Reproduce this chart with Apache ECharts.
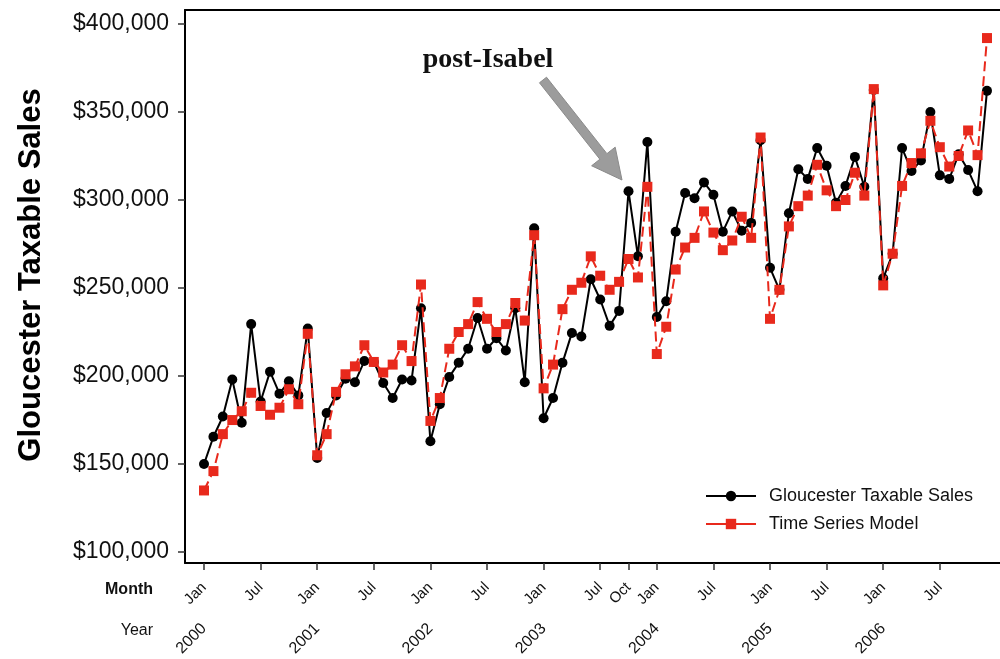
<!DOCTYPE html>
<html><head><meta charset="utf-8">
<script src="https://cdn.jsdelivr.net/npm/echarts@6/dist/echarts.min.js"></script>
<style>html,body{margin:0;padding:0;background:#fff}#c{width:1000px;height:659px}</style>
</head><body><div id="c"></div>
<script>
const years = [2000, 2001, 2002, 2003, 2004, 2005, 2006];
const monthNames = ['Jan','Feb','Mar','Apr','May','Jun','Jul','Aug','Sep','Oct','Nov','Dec'];
const seriesNames = ['Gloucester Taxable Sales', 'Time Series Model'];
// Monthly values, Jan 2000 .. Dec 2006
const salesValues = [
  150000,165500,177000,198000,173500,229500,185500,202500,190000,197000,189000,227000,
  153500,179000,189000,198500,196500,208500,208000,196000,187500,198000,197500,238500,
  163000,184000,199500,207500,215500,233000,215500,221500,214500,238500,196500,284000,
  176000,187500,207500,224500,222500,255000,243500,228500,237000,305000,268000,333000,
  233500,242500,282000,304000,301000,310000,303000,282000,293500,282500,287000,334000,
  261500,249000,292500,317500,312000,329500,319500,298500,308000,324500,307500,362500,
  255500,269500,329500,316500,322500,350000,314000,312000,326000,317000,305000,362000
];
const modelValues = [
  135000,146000,167000,175000,180000,190500,183000,178000,182000,192500,184000,224000,
  155000,167000,191000,201000,205500,217500,208000,202000,206500,217500,208500,252000,
  174500,187500,215500,225000,229500,242000,232500,225000,229500,241500,231500,280000,
  193000,206500,238000,249000,253000,268000,257000,249000,253500,266500,256000,307500,
  212500,228000,260500,273000,278500,293500,281500,271500,277000,290500,278500,335500,
  232500,249000,285000,296500,302500,320000,305500,296500,300000,315500,302500,363000,
  251500,269500,308000,321000,326500,345000,330000,319000,325000,339500,325500,392000
];
const yTicks = [100000,150000,200000,250000,300000,350000,400000];
const monthTickIdx = [0,6,12,18,24,30,36,42,45,48,54,60,66,72,78];
const yearTickIdx = [0,12,24,36,48,60,72];
const annotationText = 'post-Isabel';

const chart = echarts.init(document.getElementById('c'), null, {renderer:'canvas'});
const XMIN = -2.014, XMAX = 84.38;
const FONT = '"Liberation Sans", Arial, sans-serif';

// arrow geometry (annotation)
const S=[543,80], T=[622,180];
const dx=T[0]-S[0], dy=T[1]-S[1], L=Math.hypot(dx,dy), ux=dx/L, uy=dy/L, px=-uy, py=ux;
const B=[T[0]-ux*30, T[1]-uy*30];
const arrowPts=[
  [S[0]+px*4.5,S[1]+py*4.5],[S[0]-px*4.5,S[1]-py*4.5],
  [B[0]-px*4.5,B[1]-py*4.5],[B[0]-px*15,B[1]-py*15],T,
  [B[0]+px*15,B[1]+py*15],[B[0]+px*4.5,B[1]+py*4.5]
];

const option = {
  animation:false,
  backgroundColor:'#fff',
  grid:{left:185, right:0, top:10, bottom:95},
  legend:{
    data:seriesNames, orient:'vertical', left:700, top:482,
    itemWidth:50, itemHeight:13, itemGap:10,
    lineStyle:{type:'solid'},
    textStyle:{fontSize:18, color:'#111', fontFamily:FONT, padding:[0,0,0,8]}
  },
  xAxis:[
    {type:'value', min:XMIN, max:XMAX, position:'bottom',
     axisLine:{show:true, onZero:false, lineStyle:{color:'#000', width:2}},
     axisTick:{show:true, customValues:monthTickIdx, length:7, lineStyle:{color:'#333', width:1.5}},
     axisLabel:{show:true, customValues:monthTickIdx, rotate:45, margin:22,
       formatter:v=>monthNames[Math.round(v)%12], fontSize:15, color:'#111', fontFamily:FONT},
     splitLine:{show:false}},
    {type:'value', min:XMIN, max:XMAX, position:'bottom',
     axisLine:{show:false}, axisTick:{show:false},
     axisLabel:{show:true, customValues:yearTickIdx, rotate:45, margin:63,
       formatter:v=>String(years[Math.round(v/12)]), fontSize:16, color:'#111', fontFamily:FONT},
     splitLine:{show:false}},
    {type:'value', min:XMIN, max:XMAX, position:'top',
     axisLine:{show:true, onZero:false, lineStyle:{color:'#000', width:2}},
     axisTick:{show:false}, axisLabel:{show:false}, splitLine:{show:false}}
  ],
  yAxis:{
    type:'value', min:93760, max:407940,
    axisLine:{show:true, onZero:false, lineStyle:{color:'#000', width:2}},
    axisTick:{show:true, customValues:yTicks, length:7, lineStyle:{color:'#333', width:1.5}},
    axisLabel:{show:true, customValues:yTicks, margin:16, fontSize:23, color:'#111', fontFamily:FONT,
      formatter:v=>'$'+v.toLocaleString('en-US')},
    splitLine:{show:false}
  },
  series:[
    {name:seriesNames[0], type:'line', xAxisIndex:0, z:2,
     data:salesValues.map((v,i)=>[i,v]),
     symbol:'circle', symbolSize:10, showAllSymbol:true,
     lineStyle:{color:'#000', width:2}, itemStyle:{color:'#000'}},
    {name:seriesNames[1], type:'line', xAxisIndex:0, z:3,
     data:modelValues.map((v,i)=>[i,v]),
     symbol:'rect', symbolSize:10, showAllSymbol:true,
     lineStyle:{color:'#e8291c', width:2, type:[10,5]}, itemStyle:{color:'#e8291c'}}
  ],
  graphic:[
    {type:'text', x:31, y:275, rotation:Math.PI/2,
     style:{text:'Gloucester Taxable Sales', font:'bold 31px '+FONT, fill:'#000', align:'center', verticalAlign:'middle'}},
    {type:'text', x:153, y:590,
     style:{text:'Month', font:'bold 16px '+FONT, fill:'#111', align:'right', verticalAlign:'middle'}},
    {type:'text', x:153, y:631,
     style:{text:'Year', font:'16px '+FONT, fill:'#111', align:'right', verticalAlign:'middle'}},
    {type:'text', x:488, y:60,
     style:{text:annotationText, font:'bold 28px "Liberation Serif", "Times New Roman", serif', fill:'#111', align:'center', verticalAlign:'middle'}},
    {type:'polygon', shape:{points:arrowPts}, style:{fill:'#9c9c9c', stroke:'#8a8a8a', lineWidth:1}}
  ]
};
chart.setOption(option);
</script>
</body></html>
